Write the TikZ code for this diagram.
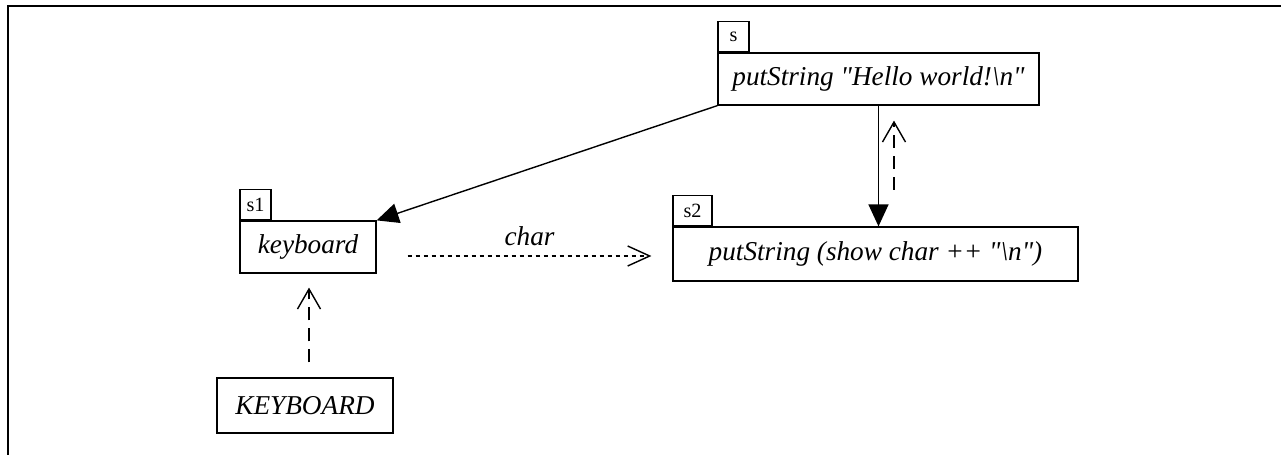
\documentclass[tikz,border=0pt]{standalone}
\usepackage{fontspec}
\setmainfont{Liberation Serif}
\usepackage{tikz}
\usetikzlibrary{shapes,arrows.meta}
\usetikzlibrary{positioning}
\usetikzlibrary{calc}
\tikzstyle{proc} = [draw, rectangle, inner sep=0pt, line width=0.7pt,
font=\itshape\fontsize{15.5}{18}\selectfont]
\tikzstyle{tab} = [draw, rectangle, inner sep=0pt, line width=0.7pt,
minimum height=0.6cm, anchor=south west, font=\fontsize{11.5}{13}\selectfont]
\tikzstyle{call} = [draw, -{Triangle[length=0.44cm,width=0.4cm]}, line width=0.8pt]

\begin{document}
\begin{tikzpicture}[
	ret/.style={draw, -{Straight Barb[length=0.4cm,width=0.46cm]},
		dash pattern=on 0.26cm off 0.16cm, line width=0.8pt},
	flow/.style={draw, -{Straight Barb[length=0.44cm,width=0.4cm]},
		dash pattern=on 0.08cm off 0.08cm, line width=0.8pt}]
	\useasboundingbox (0,0) rectangle (25.62,-9.1);
	%% frame (top and left edge only)
	\draw [line width=1.2pt] (25.62,-0.12) -- (0.16,-0.12) -- (0.16,-9.1);
	%% Processes
	\node [proc, minimum width=6.42cm, minimum height=1.04cm] (s) at (17.57,-1.58) {putString \textquotedbl Hello world!\textbackslash n\textquotedbl};
	\node [tab, minimum width=0.62cm] (stab) at (s.north west) {s};
	\node [proc, minimum width=2.72cm, minimum height=1.04cm] (s1) at (6.16,-4.94) {keyboard};
	\node [tab, minimum width=0.62cm] (s1tab) at (s1.north west) {s1};
	\node [proc, minimum width=8.1cm, minimum height=1.08cm] (s2) at (17.51,-5.08) {putString (show char ++ \textquotedbl\textbackslash n\textquotedbl)};
	\node [tab, minimum width=0.78cm] (s2tab) at (s2.north west) {s2};
	\node [proc, minimum width=3.52cm, minimum height=1.1cm] (kbd) at (6.1,-8.11) {KEYBOARD};
	%% Calls, returns and data
	\path [call] (s.south west) -- (s1.north east);
	\path [call] (s.south) -- (s.south |- s2.north);
	\path [ret] ($(s.south)+(0.31,-1.68)$) -- ($(s.south)+(0.31,-0.3)$);
	\path [ret] ($(kbd.north)+(0.08,0.3)$) -- ($(s1.south)+(0.02,-0.28)$);
	\path [flow] ($(s1.east)+(0.62,-0.18)$) -- node [midway, above=2pt, font=\itshape\fontsize{15.5}{18}\selectfont] (charlbl) {char} ($(s2.west)+(-0.42,-0.04)$);
\end{tikzpicture}
\end{document}
